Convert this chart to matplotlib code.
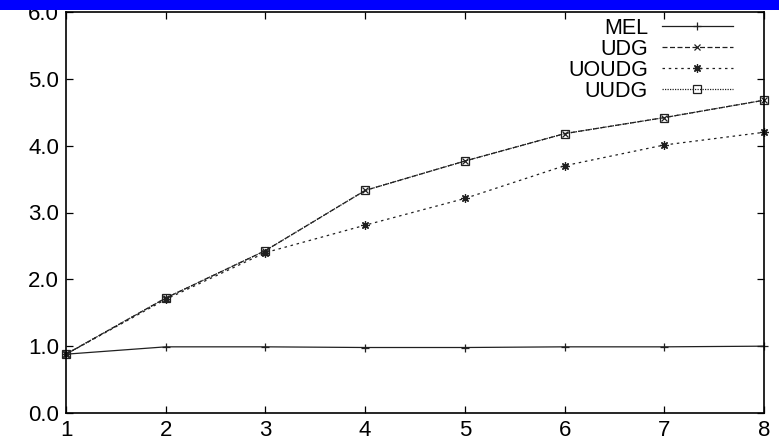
import matplotlib
matplotlib.use("Agg")
import matplotlib.pyplot as plt
from matplotlib.patches import Rectangle

x = [1, 2, 3, 4, 5, 6, 7, 8]
mel = [0.88, 0.99, 0.99, 0.98, 0.98, 0.99, 0.99, 1.00]
udg = [0.88, 1.72, 2.43, 3.33, 3.77, 4.18, 4.42, 4.68]
uoudg = [0.88, 1.70, 2.40, 2.81, 3.21, 3.70, 4.01, 4.20]
uudg = [0.88, 1.72, 2.43, 3.33, 3.77, 4.18, 4.42, 4.68]
yticks = [0.0, 1.0, 2.0, 3.0, 4.0, 5.0, 6.0]

plt.rcParams['font.family'] = ['Liberation Sans', 'DejaVu Sans']

W, H = 779, 446
fig = plt.figure(figsize=(W / 100, H / 100), dpi=100)
ax = fig.add_axes([66 / W, 1 - 413 / H, (764 - 66) / W, (413 - 12) / H])

c = '#202020'
ax.plot(x, mel, color=c, lw=0.9, ls='-', marker='+', ms=6, mew=0.9, label='MEL', clip_on=False)
ax.plot(x, uudg, color=c, lw=0.9, ls=(0, (1, 1)), marker='s', ms=6, mew=0.9, mfc='none', label='UUDG', clip_on=False)
ax.plot(x, uoudg, color=c, lw=0.9, ls=(0, (2, 3)), marker=(8, 2, 0), ms=6, mew=0.9, label='UOUDG', clip_on=False)
ax.plot(x, udg, color=c, lw=0.9, ls=(0, (4, 2)), marker='x', ms=4, mew=0.9, label='UDG', clip_on=False)

ax.set_xlim(1, 8)
ax.set_ylim(0, 6)
ax.set_xticks(x)
ax.set_xticklabels([str(v) for v in x])
ax.set_yticks(yticks)
ax.set_yticklabels([f'{v:.1f}' for v in yticks])
ax.tick_params(direction='in', top=True, right=True, length=5, width=0.9, labelsize=16, pad=5)
for s in ax.spines.values():
    s.set_linewidth(1.2)

handles, labels = ax.get_legend_handles_labels()
order = ['MEL', 'UDG', 'UOUDG', 'UUDG']
hmap = dict(zip(labels, handles))
leg = ax.legend([hmap[k] for k in order], order, loc='upper right', frameon=False,
                markerfirst=False, fontsize=15.5, handlelength=3.3, labelspacing=0.0,
                handletextpad=0.65, borderpad=0, borderaxespad=0,
                bbox_to_anchor=(733 / W, 1 - 18 / H), bbox_transform=fig.transFigure)

fig.patches.append(Rectangle((0, 1 - 10 / H), 1, 10 / H, transform=fig.transFigure,
                             facecolor='#0000FF', edgecolor='none', zorder=10))

fig.savefig('out.png', dpi=100)
